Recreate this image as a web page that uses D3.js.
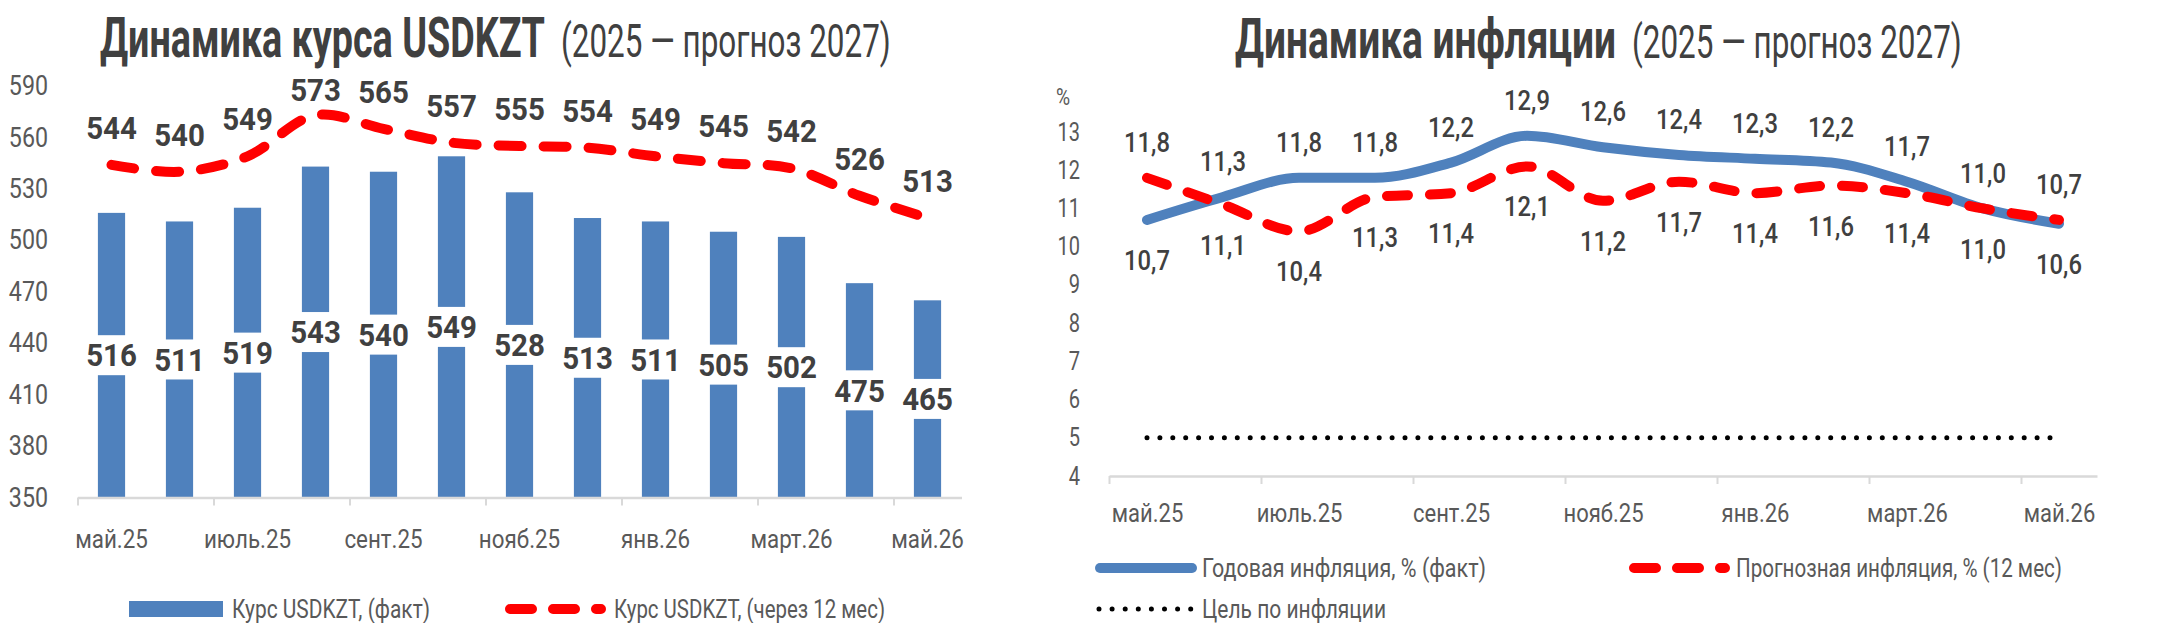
<!DOCTYPE html>
<html lang="ru">
<head>
<meta charset="utf-8">
<script src="https://d3js.org/d3.v7.min.js"></script>
<style>
  body { margin: 0; background: #fff; }
  svg text { font-family: Roboto, "Noto Sans", sans-serif; }
</style>
</head>
<body>
<svg id="chart" width="2160" height="623"></svg>
<script>
// ---- data
var months = ["май.25", "июнь.25", "июль.25", "авг.25", "сент.25", "окт.25", "нояб.25",
              "дек.25", "янв.26", "февр.26", "март.26", "апр.26", "май.26"];
var usdFact     = [516, 511, 519, 543, 540, 549, 528, 513, 511, 505, 502, 475, 465];
var usdForecast = [544, 540, 549, 573, 565, 557, 555, 554, 549, 545, 542, 526, 513];
var usdTicks    = [350, 380, 410, 440, 470, 500, 530, 560, 590];

var inflFact     = [10.7, 11.3, 11.8, 11.8, 12.2, 12.9, 12.6, 12.4, 12.3, 12.2, 11.7, 11.0, 10.6];
var inflForecast = [11.8, 11.1, 10.4, 11.3, 11.4, 12.1, 11.2, 11.7, 11.4, 11.6, 11.4, 11.0, 10.7];
var inflTarget   = [5, 5, 5, 5, 5, 5, 5, 5, 5, 5, 5, 5, 5];
var inflTicks    = [4, 5, 6, 7, 8, 9, 10, 11, 12, 13];

var ink = "#404040", axisInk = "#595959", gridInk = "#d9d9d9";
var blue = "#4F81BD", red = "#FF0000";

var svg = d3.select("#chart");
var fmt = function (v) { return d3.format(".1f")(v).replace(".", ","); };

// squeeze text horizontally (source font is a condensed DIN-like face)
function squeeze(sel, k) {
  sel.each(function () {
    var w = this.getComputedTextLength();
    this.setAttribute("textLength", (w * k).toFixed(1));
    this.setAttribute("lengthAdjust", "spacingAndGlyphs");
  });
}
function fitTo(sel, w) {
  sel.attr("textLength", w).attr("lengthAdjust", "spacingAndGlyphs");
}
// titles: scale the whole element so its box stays true
function scaleTo(sel, x, y, w) {
  sel.each(function () {
    var k = w / this.getComputedTextLength();
    this.setAttribute("transform", "translate(" + x + "," + y + ") scale(" + k.toFixed(4) + ",1)");
  });
}
function cleanAxis(g) {
  g.attr("font-size", null).attr("font-family", null);
}
function even(m, i) { return i % 2 === 0; }

// ================= LEFT: USDKZT =================
var xL = d3.scaleBand().domain(months).range([77.5, 961.5]).paddingInner(0.6).paddingOuter(0.3);
var yL = d3.scaleLinear().domain([350, 590]).range([497.5, 86]);
var idxL = d3.scaleLinear().domain([0, months.length]).range([77.5, 961.5]);
function cxL(i) { return xL(months[i]) + xL.bandwidth() / 2; }

svg.append("text").attr("font-size", 56).attr("font-weight", 700).attr("fill", ink)
  .text("Динамика курса USDKZT").call(scaleTo, 100, 57, 445);
svg.append("text").attr("font-size", 46).attr("fill", ink)
  .text("(2025 — прогноз 2027)").call(scaleTo, 561, 57, 330);

var yAxL = svg.append("g").attr("transform", "translate(48,0)")
  .call(d3.axisLeft(yL).tickValues(usdTicks).tickSize(0).tickPadding(0))
  .call(cleanAxis);
yAxL.select(".domain").remove();
yAxL.selectAll("text").attr("fill", axisInk).attr("font-size", 27).call(squeeze, 0.86);

var bars = svg.append("g").selectAll("rect").data(usdFact).join("rect")
  .attr("x", function (d, i) { return xL(months[i]); })
  .attr("y", function (d) { return yL(d); })
  .attr("width", xL.bandwidth())
  .attr("height", function (d) { return yL(350) - yL(d); })
  .attr("fill", blue);

var tickAxL = svg.append("g").attr("transform", "translate(0,497.5)")
  .call(d3.axisBottom(idxL).tickValues(d3.range(0, months.length, 2)).tickSize(8).tickSizeOuter(0).tickFormat(""))
  .call(cleanAxis);
tickAxL.select(".domain").attr("stroke", gridInk).attr("stroke-width", 2.5);
tickAxL.selectAll(".tick line").attr("stroke", gridInk).attr("stroke-width", 2);

var labAxL = svg.append("g").attr("transform", "translate(0,497.5)")
  .call(d3.axisBottom(xL).tickValues(months.filter(even)).tickSize(0).tickPadding(32))
  .call(cleanAxis);
labAxL.select(".domain").remove();
labAxL.selectAll("text").attr("fill", axisInk).attr("font-size", 26).call(squeeze, 0.86);

// bar value labels, centred on the bar with a white box
var barLab = svg.append("g").selectAll("g").data(usdFact).join("g")
  .attr("transform", function (d, i) { return "translate(" + cxL(i) + "," + yL((d + 350) / 2) + ")"; });
var barBox = barLab.append("rect").attr("fill", "#fff");
var barTxt = barLab.append("text").attr("text-anchor", "middle").attr("dy", "0.36em")
  .attr("font-size", 31).attr("font-weight", 700).attr("fill", ink)
  .text(function (d) { return d; }).call(squeeze, 0.95);
barBox.each(function (d, i) {
  var w = barTxt.nodes()[i].getComputedTextLength() + 10;
  d3.select(this).attr("x", -w / 2).attr("y", -20).attr("width", w).attr("height", 40);
});

var lineL = d3.line()
  .x(function (d, i) { return cxL(i); })
  .y(function (d) { return yL(d); })
  .curve(d3.curveCatmullRom.alpha(0.5));
svg.append("path").datum(usdForecast).attr("d", lineL)
  .attr("fill", "none").attr("stroke", red).attr("stroke-width", 10)
  .attr("stroke-linecap", "round").attr("stroke-dasharray", "23,22");

svg.append("g").selectAll("text").data(usdForecast).join("text")
  .attr("x", function (d, i) { return cxL(i); })
  .attr("y", function (d) { return Math.max(yL(d) - 37, 89.5); })
  .attr("dy", "0.36em").attr("text-anchor", "middle")
  .attr("font-size", 31).attr("font-weight", 700).attr("fill", ink)
  .text(function (d) { return d; }).call(squeeze, 0.95);

// legend
svg.append("rect").attr("x", 129).attr("y", 601).attr("width", 94).attr("height", 16).attr("fill", blue);
svg.append("text").attr("x", 232).attr("y", 609).attr("dy", "0.35em")
  .attr("font-size", 26).attr("fill", axisInk).text("Курс USDKZT, (факт)").call(fitTo, 198);
svg.append("line").attr("x1", 510).attr("x2", 601).attr("y1", 609).attr("y2", 609)
  .attr("stroke", red).attr("stroke-width", 10).attr("stroke-linecap", "round").attr("stroke-dasharray", "22,21");
svg.append("text").attr("x", 614).attr("y", 609).attr("dy", "0.35em")
  .attr("font-size", 26).attr("fill", axisInk).text("Курс USDKZT, (через 12 мес)").call(fitTo, 271);

// ================= RIGHT: inflation =================
var xR = d3.scalePoint().domain(months).range([1109, 2097]).padding(0.5);
var yR = d3.scaleLinear().domain([4, 13]).range([476, 132]);
var idxR = d3.scaleLinear().domain([0, months.length]).range([1109, 2097]);

svg.append("text").attr("font-size", 56).attr("font-weight", 700).attr("fill", ink)
  .text("Динамика инфляции").call(scaleTo, 1235, 58, 381);
svg.append("text").attr("font-size", 46).attr("fill", ink)
  .text("(2025 — прогноз 2027)").call(scaleTo, 1632, 58, 330);

var yAxR = svg.append("g").attr("transform", "translate(1080,0)")
  .call(d3.axisLeft(yR).tickValues(inflTicks).tickSize(0).tickPadding(0))
  .call(cleanAxis);
yAxR.select(".domain").remove();
yAxR.selectAll("text").attr("fill", axisInk).attr("font-size", 25).call(squeeze, 0.8);
svg.append("text").attr("x", 1063).attr("y", 97).attr("dy", "0.35em").attr("text-anchor", "middle")
  .attr("font-size", 24).attr("fill", axisInk).text("%").call(squeeze, 0.8);

var tickAxR = svg.append("g").attr("transform", "translate(0,476)")
  .call(d3.axisBottom(idxR).tickValues(d3.range(0, months.length, 2)).tickSize(8).tickSizeOuter(0).tickFormat(""))
  .call(cleanAxis);
tickAxR.select(".domain").attr("stroke", gridInk).attr("stroke-width", 2.5);
tickAxR.selectAll(".tick line").attr("stroke", gridInk).attr("stroke-width", 2);

var labAxR = svg.append("g").attr("transform", "translate(0,476)")
  .call(d3.axisBottom(xR).tickValues(months.filter(even)).tickSize(0).tickPadding(28))
  .call(cleanAxis);
labAxR.select(".domain").remove();
labAxR.selectAll("text").attr("fill", axisInk).attr("font-size", 25).call(squeeze, 0.88);

function lineR(curve) {
  return d3.line()
    .x(function (d, i) { return xR(months[i]); })
    .y(function (d) { return yR(d); })
    .curve(curve);
}

svg.append("path").datum(inflTarget).attr("d", lineR(d3.curveLinear))
  .attr("fill", "none").attr("stroke", "#000").attr("stroke-width", 5)
  .attr("stroke-linecap", "round").attr("stroke-dasharray", "0,12.9");
svg.append("path").datum(inflFact).attr("d", lineR(d3.curveMonotoneX))
  .attr("fill", "none").attr("stroke", blue).attr("stroke-width", 10)
  .attr("stroke-linecap", "round").attr("stroke-linejoin", "round");
svg.append("path").datum(inflForecast).attr("d", lineR(d3.curveMonotoneX))
  .attr("fill", "none").attr("stroke", red).attr("stroke-width", 10)
  .attr("stroke-linecap", "round").attr("stroke-dasharray", "21,22");

// labels: the higher series gets its label above, the other below
function inflLabels(values, other, blueWins) {
  svg.append("g").selectAll("text").data(values).join("text")
    .attr("x", function (d, i) { return xR(months[i]); })
    .attr("y", function (d, i) {
      var up = blueWins ? d >= other[i] : d > other[i];
      return up ? yR(d) - 36 : yR(d) + 40;
    })
    .attr("dy", "0.36em").attr("text-anchor", "middle")
    .attr("font-size", 28).attr("font-weight", 500).attr("fill", ink)
    .text(fmt).call(squeeze, 0.85);
}
inflLabels(inflFact, inflForecast, true);
inflLabels(inflForecast, inflFact, false);

// legend
svg.append("line").attr("x1", 1100).attr("x2", 1192).attr("y1", 568).attr("y2", 568)
  .attr("stroke", blue).attr("stroke-width", 10).attr("stroke-linecap", "round");
svg.append("text").attr("x", 1202).attr("y", 568).attr("dy", "0.35em")
  .attr("font-size", 25).attr("fill", axisInk).text("Годовая инфляция, % (факт)").call(fitTo, 284);
svg.append("line").attr("x1", 1634).attr("x2", 1725).attr("y1", 568).attr("y2", 568)
  .attr("stroke", red).attr("stroke-width", 10).attr("stroke-linecap", "round").attr("stroke-dasharray", "22,21");
svg.append("text").attr("x", 1736).attr("y", 568).attr("dy", "0.35em")
  .attr("font-size", 25).attr("fill", axisInk).text("Прогнозная инфляция, % (12 мес)").call(fitTo, 326);
svg.append("line").attr("x1", 1099).attr("x2", 1191).attr("y1", 609).attr("y2", 609)
  .attr("stroke", "#000").attr("stroke-width", 5).attr("stroke-linecap", "round").attr("stroke-dasharray", "0,13.1");
svg.append("text").attr("x", 1202).attr("y", 609).attr("dy", "0.35em")
  .attr("font-size", 25).attr("fill", axisInk).text("Цель по инфляции").call(fitTo, 184);
</script>
</body>
</html>
